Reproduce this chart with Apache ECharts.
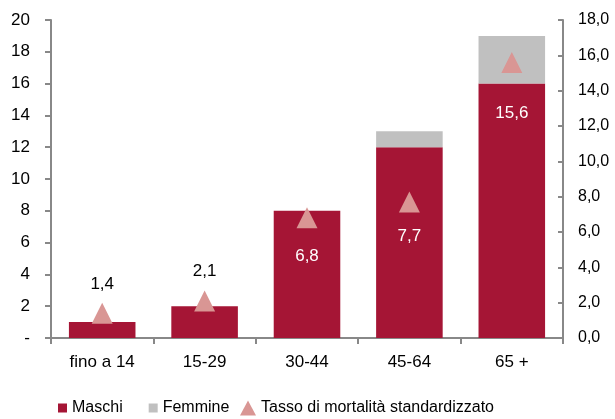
<!DOCTYPE html>
<html><head><meta charset="utf-8">
<script src="https://cdn.jsdelivr.net/npm/echarts@6/dist/echarts.min.js"></script>
<style>html,body{margin:0;padding:0;background:#fff}#c{width:615px;height:419px}</style>
</head><body><div id="c"></div>
<script>
const categories = ['fino a 14', '15-29', '30-44', '45-64', '65 +'];
const maschi = [1, 2, 8, 12, 16];
const femmine = [0, 0, 0, 1, 3];
const tasso = [1.4, 2.1, 6.8, 7.7, 15.6];
const labelAbove = [true, true, false, false, false];
const labelOffsets = [-29, -30, 38, 34, 51];

const font = 'Liberation Sans, Arial, sans-serif';
const axisGray = '#888888';
const chart = echarts.init(document.getElementById('c'), null, {renderer: 'canvas'});
chart.setOption({
  animation: false,
  textStyle: {fontFamily: font},
  grid: {left: 51, right: 52, top: 20, bottom: 81, containLabel: false},
  legend: [
    {
      top: 400, left: 58, padding: 0,
      itemGap: 26, itemWidth: 9, itemHeight: 9,
      textStyle: {fontSize: 16, color: '#000', fontFamily: font},
      data: [
        {name: 'Maschi', icon: 'rect'},
        {name: 'Femmine', icon: 'rect'}
      ]
    },
    {
      top: 400, left: 240, padding: 0,
      itemWidth: 16, itemHeight: 15,
      textStyle: {fontSize: 16, color: '#000', fontFamily: font},
      data: [
        {name: 'Tasso di mortalità standardizzato', icon: 'triangle', itemStyle: {color: '#D99694'}}
      ]
    }
  ],
  xAxis: {
    type: 'category', data: categories,
    axisLine: {lineStyle: {color: axisGray, width: 2}},
    axisTick: {show: true, length: 6, lineStyle: {color: axisGray, width: 2}},
    axisLabel: {color: '#000', fontSize: 17, margin: 16}
  },
  yAxis: [
    {type: 'value', min: 0, max: 20, interval: 2,
     axisLine: {show: true, lineStyle: {color: axisGray, width: 2}},
     axisTick: {show: true, length: 6, lineStyle: {color: axisGray, width: 2}},
     splitLine: {show: false},
     axisLabel: {color: '#000', fontSize: 17, margin: 21,
       formatter: v => v === 0 ? '-' : String(v)}},
    {type: 'value', min: 0, max: 18, interval: 2, position: 'right',
     axisLine: {show: true, lineStyle: {color: axisGray, width: 2}},
     axisTick: {show: true, inside: true, length: 5, lineStyle: {color: axisGray, width: 2}},
     splitLine: {show: false},
     axisLabel: {color: '#000', fontSize: 16, margin: 15,
       formatter: v => v.toFixed(1).replace('.', ',')}}
  ],
  series: [
    {name: 'Maschi', type: 'bar', stack: 's', data: maschi, barWidth: '65%',
     itemStyle: {color: '#A51535'}},
    {name: 'Femmine', type: 'bar', stack: 's', data: femmine, barWidth: '65%',
     itemStyle: {color: '#C0C0C0'}},
    {name: 'Tasso di mortalità standardizzato', type: 'scatter', yAxisIndex: 1,
     symbol: 'triangle', symbolSize: [21, 21], z: 5,
     itemStyle: {color: '#D99694', opacity: 1},
     data: tasso.map((v, i) => ({
       value: v,
       label: {show: true, position: 'inside', offset: [0, labelOffsets[i]],
         color: labelAbove[i] ? '#000' : '#fff', fontSize: 17,
         formatter: p => p.value.toFixed(1).replace('.', ',')}
     }))}
  ]
});
</script></body></html>
